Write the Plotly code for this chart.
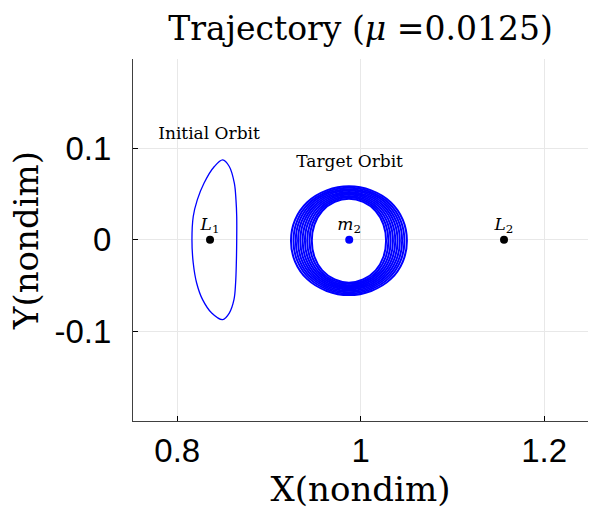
import plotly.graph_objects as go

# ---- data ----
mu = 0.0125
initial_x = [0.8648, 0.8648, 0.8640, 0.8622, 0.8567, 0.8495, 0.8404, 0.8291, 0.8218, 0.8174,
             0.8160, 0.8174, 0.8211, 0.8276, 0.8375, 0.8495, 0.8567, 0.8618, 0.8636, 0.8644, 0.8648]
initial_y = [0.0000, 0.0254, 0.0436, 0.0618, 0.0800, 0.0872, 0.0800, 0.0618, 0.0436, 0.0254,
             0.0000, -0.0254, -0.0472, -0.0654, -0.0800, -0.0872, -0.0800, -0.0654, -0.0472, -0.0254, 0.0000]

# target orbit: successive loops around m2 (half-widths / half-heights)
ring_cx = 0.9872
ring_cy = -0.0010
ring_rx = [0.0405, 0.0430, 0.0455, 0.0480, 0.0505, 0.0530, 0.0555, 0.0580, 0.0605, 0.0632]
ring_ry = [0.0458, 0.0473, 0.0488, 0.0503, 0.0518, 0.0533, 0.0548, 0.0563, 0.0578, 0.0594]
# normalised loop outline
loop_u = [1.000, 0.930, 0.720, 0.383, 0.000, -0.383, -0.720, -0.930, -1.000, -0.930, -0.720, -0.383, 0.000, 0.383, 0.720, 0.930, 1.000]
loop_v = [0.000, 0.383, 0.707, 0.924, 1.000, 0.924, 0.707, 0.383, 0.000, -0.383, -0.707, -0.924, -1.000, -0.924, -0.707, -0.383, 0.000]

points_x = [0.8357, 1 - mu, 1.1563]
points_y = [0.0, 0.0, 0.0]
points_lbl = ["<i>L</i><sub>1</sub>", "<i>m</i><sub>2</sub>", "<i>L</i><sub>2</sub>"]
points_col = ["black", "blue", "black"]

notes_x = [0.8346, 0.9879]
notes_y = [0.1145, 0.0840]
notes_txt = ["Initial Orbit", "Target Orbit"]

x_ticks = [0.8, 1.0, 1.2]
x_tick_text = ["0.8", "1", "1.2"]
y_ticks = [-0.1, 0.0, 0.1]
y_tick_text = ["-0.1", "0", "0.1"]

SERIF = "DejaVu Serif"
SANS = "Liberation Sans"

fig = go.Figure()

fig.add_trace(go.Scatter(x=initial_x, y=initial_y, mode="lines",
                         line=dict(color="blue", width=1.3, shape="spline"),
                         showlegend=False, hoverinfo="skip"))

for rx, ry in zip(ring_rx, ring_ry):
    fig.add_trace(go.Scatter(x=[ring_cx + rx * u for u in loop_u],
                             y=[ring_cy + ry * v for v in loop_v],
                             mode="lines",
                             line=dict(color="blue", width=2.0, shape="spline"),
                             showlegend=False, hoverinfo="skip"))

fig.add_trace(go.Scatter(x=points_x, y=points_y, mode="markers+text",
                         marker=dict(color=points_col, size=8),
                         text=points_lbl, textposition="top center",
                         textfont=dict(family=SERIF, size=17, color="black"),
                         showlegend=False, hoverinfo="skip"))

fig.add_trace(go.Scatter(x=notes_x, y=notes_y, mode="text", text=notes_txt,
                         textfont=dict(family=SERIF, size=17, color="black"),
                         showlegend=False, hoverinfo="skip"))

fig.update_layout(
    width=589, height=516,
    margin=dict(l=133, r=1, t=59, b=95),
    paper_bgcolor="white", plot_bgcolor="white",
    title=dict(text="Trajectory (<i>μ</i> =0.0125)", x=0.5, xref="paper", xanchor="center",
               y=1 - 28 / 516, yanchor="middle",
               font=dict(family=SERIF, size=33, color="black")),
)
fig.update_xaxes(range=[0.7517, 1.2479], tickvals=x_ticks, ticktext=x_tick_text,
                 showgrid=True, gridcolor="#e8e8e8", gridwidth=1, zeroline=False,
                 showline=True, linecolor="#404040", linewidth=1, mirror=False,
                 ticks="inside", ticklen=5, tickcolor="black",
                 tickfont=dict(family=SANS, size=33, color="black"),
                 title=dict(text="X(nondim)", font=dict(family=SERIF, size=34, color="black"), standoff=3))
fig.update_yaxes(range=[-0.1979, 0.1974], tickvals=y_ticks, ticktext=y_tick_text,
                 showgrid=True, gridcolor="#e8e8e8", gridwidth=1, zeroline=False,
                 showline=True, linecolor="#404040", linewidth=1, mirror=False,
                 ticks="inside", ticklen=5, tickcolor="black", ticklabelstandoff=14,
                 tickfont=dict(family=SANS, size=33, color="black"),
                 title=dict(text="Y(nondim)", font=dict(family=SERIF, size=34, color="black"), standoff=5))

fig.write_html("out.html")
